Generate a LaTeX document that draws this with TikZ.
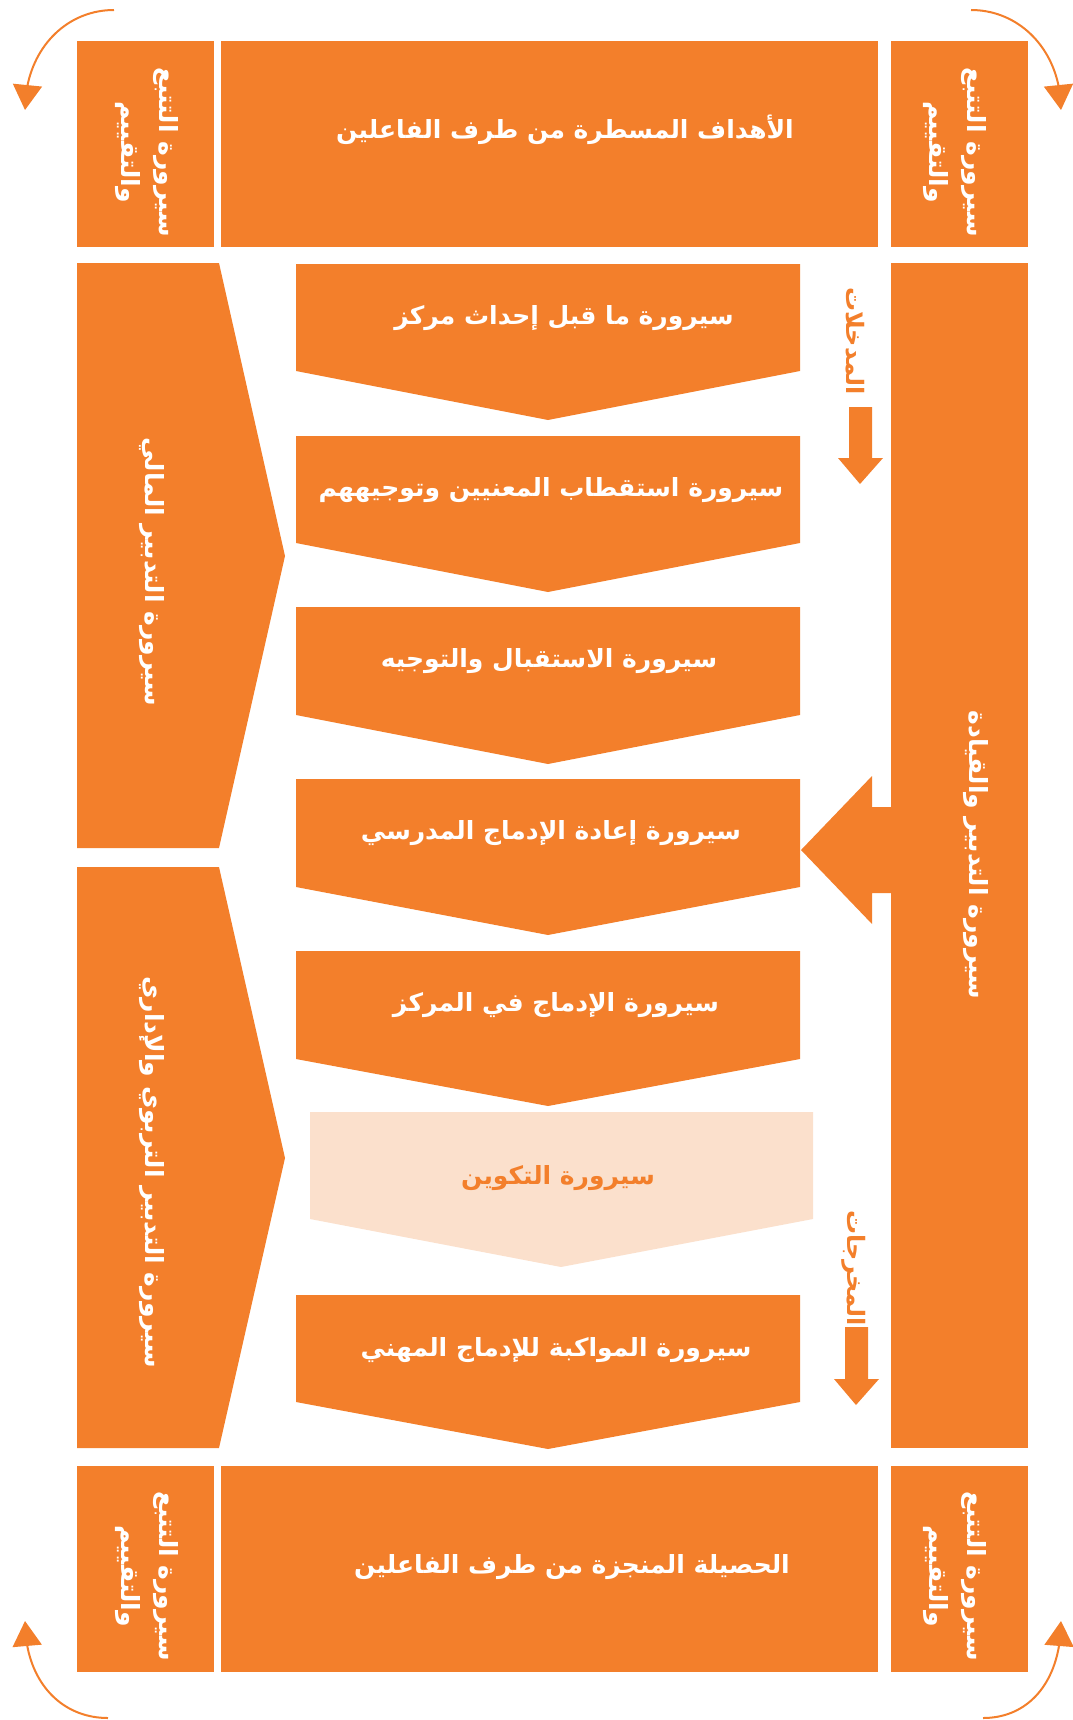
\documentclass[tikz,border=0pt]{standalone}
\usepackage{fontspec}
\newfontfamily\arabicfont[Script=Arabic]{DejaVu Sans}
\usetikzlibrary{arrows.meta,bending}
\TeXXeTstate=1
\definecolor{procorange}{RGB}{243,127,43}
\definecolor{procpale}{RGB}{251,224,204}

\begin{document}
\begin{tikzpicture}[
    x=1pt, y=-1pt,
    every node/.style={font=\arabicfont\bfseries\fontsize{25}{38}\selectfont, text=white, inner sep=0pt},
    block/.style={fill=procorange},
    paleblock/.style={fill=procpale},
    vtext/.style={rotate=-90, align=center},
    flowlabel/.style={rotate=-90, text=procorange, font=\arabicfont\bfseries\fontsize{24}{30}\selectfont},
    cycle arrow/.style={-{Triangle[width=29pt,length=25pt]}, procorange, line width=2pt}
]
\useasboundingbox (0,0) rectangle (1072,1720);

% Top row
\fill[block] (77,41) rectangle (214,247);
\fill[block] (221,41) rectangle (878,247);
\fill[block] (891,41) rectangle (1028,247);
\node[vtext] (followTL) at (147,152) {\beginR سيرورة التتبع\endR\\ \beginR والتقييم\endR};
\node (goals) at (565,130) {\beginR الأهداف المسطرة من طرف الفاعلين\endR};
\node[vtext] (followTR) at (955,152) {\beginR سيرورة التتبع\endR\\ \beginR والتقييم\endR};

% Left column: management chevrons
\fill[block] (77,263) -- (219,263) -- (285,556) -- (219,848) -- (77,848) -- cycle;
\node[vtext] (finance) at (152,572) {\beginR سيرورة التدبير المالي\endR};
\fill[block] (77,867) -- (219,867) -- (285,1158) -- (219,1448) -- (77,1448) -- cycle;
\node[vtext] (admin) at (152,1172) {\beginR سيرورة التدبير التربوي والإداري\endR};

% Centre column: process chevrons
\fill[block] (296,264) -- (800,264) -- (800,371) -- (548,420) -- (296,371) -- cycle;
\node (pre) at (564,318) {\beginR سيرورة ما قبل إحداث مركز\endR};

\fill[block] (296,436) -- (800,436) -- (800,543) -- (548,592) -- (296,543) -- cycle;
\node (attract) at (551,490) {\beginR سيرورة استقطاب المعنيين وتوجيههم\endR};

\fill[block] (296,607) -- (800,607) -- (800,715) -- (548,764) -- (296,715) -- cycle;
\node (welcome) at (549,661) {\beginR سيرورة الاستقبال والتوجيه\endR};

\fill[block] (296,779) -- (800,779) -- (800,887) -- (548,935) -- (296,887) -- cycle;
\node (school) at (551,833) {\beginR سيرورة إعادة الإدماج المدرسي\endR};

\fill[block] (296,951) -- (800,951) -- (800,1059) -- (548,1106) -- (296,1059) -- cycle;
\node (centre) at (556,1005) {\beginR سيرورة الإدماج في المركز\endR};

\fill[paleblock] (310,1112) -- (813,1112) -- (813,1219) -- (561,1267) -- (310,1219) -- cycle;
\node[text=procorange] (training) at (558,1178) {\beginR سيرورة التكوين\endR};

\fill[block] (296,1295) -- (800,1295) -- (800,1402) -- (548,1449) -- (296,1402) -- cycle;
\node (support) at (556,1350) {\beginR سيرورة المواكبة للإدماج المهني\endR};

% Inputs / outputs
\node[flowlabel] (inputs) at (855,341) {\beginR المدخلات\endR};
\fill[block] (849,407) -- (872,407) -- (872,458) -- (883,458) -- (860,484) -- (838,458) -- (849,458) -- cycle;
\node[flowlabel] (outputs) at (854,1268) {\beginR المخرجات\endR};
\fill[block] (845,1327) -- (868,1327) -- (868,1379) -- (879,1379) -- (856,1405) -- (834,1379) -- (845,1379) -- cycle;

% Right column: steering
\fill[block] (891,263) rectangle (1028,1448);
\fill[block] (893,807) -- (872,807) -- (872,776) -- (801,850) -- (872,924) -- (872,893) -- (893,893) -- cycle;
\node[vtext] (steering) at (976,855) {\beginR سيرورة التدبير والقيادة\endR};

% Bottom row
\fill[block] (77,1466) rectangle (214,1672);
\fill[block] (221,1466) rectangle (878,1672);
\fill[block] (891,1466) rectangle (1028,1672);
\node[vtext] (followBL) at (147,1576) {\beginR سيرورة التتبع\endR\\ \beginR والتقييم\endR};
\node (results) at (572,1567) {\beginR الحصيلة المنجزة من طرف الفاعلين\endR};
\node[vtext] (followBR) at (955,1576) {\beginR سيرورة التتبع\endR\\ \beginR والتقييم\endR};

% Feedback arcs
\coordinate (tlA) at (114,10);   \coordinate (tlB) at (25,110);
\coordinate (trA) at (971,10);   \coordinate (trB) at (1061,110);
\coordinate (blA) at (108,1718); \coordinate (blB) at (25,1621);
\coordinate (brA) at (983,1718); \coordinate (brB) at (1061,1621);
\draw[cycle arrow] (tlA) .. controls (64,10) and (25,52) .. (tlB);
\draw[cycle arrow] (trA) .. controls (1021,10) and (1061,52) .. (trB);
\draw[cycle arrow] (blA) .. controls (60,1718) and (25,1680) .. (blB);
\draw[cycle arrow] (brA) .. controls (1030,1718) and (1061,1680) .. (brB);
\end{tikzpicture}
\end{document}
